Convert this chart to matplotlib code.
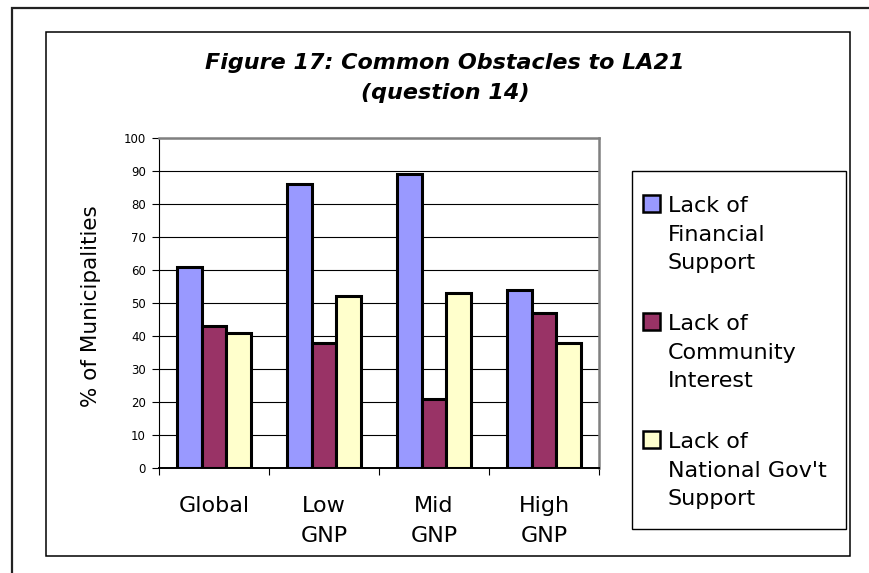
import matplotlib
matplotlib.use("Agg")
import matplotlib.pyplot as plt
from matplotlib.patches import Rectangle
from matplotlib.lines import Line2D
import numpy as np

plt.rcParams['font.family'] = ['DejaVu Sans']

categories = ["Global", "Low\nGNP", "Mid\nGNP", "High\nGNP"]
series_names = ["Lack of\nFinancial\nSupport", "Lack of\nCommunity\nInterest", "Lack of\nNational Gov't\nSupport"]
financial = [61, 86, 89, 54]
community = [43, 38, 21, 47]
national = [41, 52, 53, 38]
yticks = [0, 10, 20, 30, 40, 50, 60, 70, 80, 90, 100]
title = "Figure 17: Common Obstacles to LA21\n(question 14)"
ylabel = "% of Municipalities"

colors = ["#9999FF", "#993366", "#FFFFCC"]
W, H = 870, 573
fig = plt.figure(figsize=(W / 100, H / 100), dpi=100)

# overlay axes in pixel coordinates
ov = fig.add_axes([0, 0, 1, 1], zorder=0)
ov.set_xlim(0, W)
ov.set_ylim(H, 0)
ov.axis('off')

# outer frame (top and left)
ov.add_line(Line2D([12, 12, W], [H, 8, 8], color='#222222', lw=1.6, solid_joinstyle='miter'))
# chart area box
ov.add_patch(Rectangle((46, 32), 804, 524, fill=False, ec='black', lw=1.1))

# title (y = baseline of the last line)
ov.text(445, 99, title, ha='center', va='baseline', fontsize=16, fontweight='bold',
        fontstyle='italic', linespacing=1.6)

# plot axes
px0, px1, py0, py1 = 159, 599, 138, 468
ax = fig.add_axes([px0 / W, 1 - py1 / H, (px1 - px0) / W, (py1 - py0) / H], zorder=1)
ax.patch.set_alpha(0)

x = np.arange(len(categories))
bw = 0.223
for i, (vals, c) in enumerate(zip([financial, community, national], colors)):
    ax.bar(x + (i - 1) * bw, vals, width=bw, color=c, edgecolor='black', linewidth=2.2, zorder=3)

ax.set_xlim(-0.5, len(categories) - 0.5)
ax.set_ylim(0, 100)
ax.set_yticks(yticks)
ax.yaxis.grid(True, color='black', lw=0.8, zorder=0)
ax.set_axisbelow(True)
ax.tick_params(axis='y', length=5, width=0.8, labelsize=8.5, pad=4.5, direction='out')
ax.set_xticks(x)
ax.set_xticklabels(categories, fontsize=16)
for lab in ax.get_xticklabels():
    lab.set_linespacing(1.62)
ax.tick_params(axis='x', which='major', length=0, pad=20)
ax.set_xticks(np.arange(-0.5, len(categories), 1.0), minor=True)
ax.tick_params(axis='x', which='minor', length=5, width=0.8, direction='out')

for s in ['top', 'right']:
    ax.spines[s].set_color('#808080')
    ax.spines[s].set_linewidth(1.8)
ax.spines['left'].set_color('black')
ax.spines['left'].set_linewidth(0.8)
ax.spines['bottom'].set_color('black')
ax.spines['bottom'].set_linewidth(1.4)

# y label
ov.text(91, 306, ylabel, rotation=90, ha='center', va='center', fontsize=15.5)

# legend
ov.add_patch(Rectangle((632, 171), 214, 358, fill=False, ec='black', lw=1.0, zorder=2))
firsts = [212, 330, 448]
step = 28.5
for name, c, b in zip(series_names, colors, firsts):
    ov.add_patch(Rectangle((643, b - 17), 17, 17, fc=c, ec='black', lw=1.8, zorder=3))
    nlines = name.count("\n")
    ov.text(668, b + nlines * step, name, ha='left', va='baseline', fontsize=16, linespacing=1.52)

fig.savefig("out.png", dpi=100)
